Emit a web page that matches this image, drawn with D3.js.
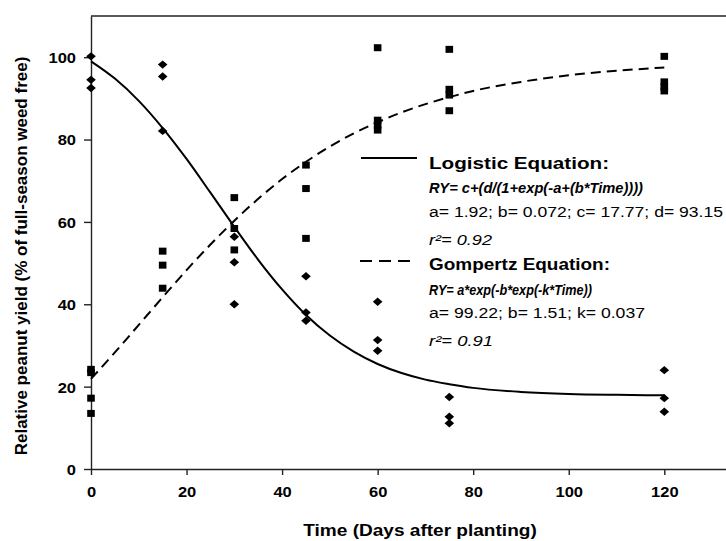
<!DOCTYPE html>
<html>
<head>
<meta charset="utf-8">
<script src="https://cdn.jsdelivr.net/npm/d3@7"></script>
<style>
	body { margin: 0; background: #fff; }
	text { font-family: "Liberation Sans", Arial, sans-serif; fill: #000; }
</style>
</head>
<body>
<div class="demoWrapper"></div>
<script>
const width = 726;
const height = 541;
const margin = {"top": 16, "left": 91, "bottom": 72};
const xMax = 133;
const yMax = 110;

// weed-infested duration (diamonds, logistic fit)
const infestedDays = [0, 0, 0, 15, 15, 15, 30, 30, 30, 45, 45, 45, 60, 60, 60, 75, 75, 75, 120, 120, 120];
const infestedRY = [100.2, 94.5, 92.5, 98.2, 95.3, 82.1, 56.4, 50.2, 40.0, 46.8, 38.0, 36.0, 40.6, 31.3, 28.7, 17.5, 12.7, 11.1, 24.0, 17.2, 13.9];

// weed-free duration (squares, Gompertz fit)
const weedFreeDays = [0, 0, 0, 0, 15, 15, 15, 30, 30, 30, 45, 45, 45, 60, 60, 60, 60, 75, 75, 75, 75, 120, 120, 120, 120];
const weedFreeRY = [24.2, 23.4, 17.2, 13.5, 52.9, 49.5, 43.9, 65.9, 58.4, 53.2, 73.8, 68.1, 56.0, 102.3, 84.7, 83.5, 82.3, 101.9, 92.2, 90.8, 87.0, 100.2, 94.0, 92.8, 91.8];

// fitted curves
const curveDays = [0, 5, 10, 15, 20, 25, 30, 35, 40, 45, 50, 55, 60, 65, 70, 75, 80, 90, 100, 110, 120];
const logisticRY = [99.0, 94.8, 89.4, 82.8, 75.3, 67.1, 58.8, 50.8, 43.6, 37.4, 32.4, 28.5, 25.5, 23.3, 21.7, 20.6, 19.7, 18.7, 18.2, 18.0, 17.9];
const gompertzRY = [21.9, 28.3, 35.0, 41.7, 48.3, 54.5, 60.3, 65.6, 70.4, 74.6, 78.3, 81.5, 84.2, 86.6, 88.6, 90.3, 91.8, 94.0, 95.6, 96.7, 97.5];

const xTicks = [0, 20, 40, 60, 80, 100, 120];
const yTicks = [0, 20, 40, 60, 80, 100];

const legendLines = [
	{"text": "Logistic Equation:", "cls": "head", "len": 180},
	{"text": "RY= c+(d/(1+exp(-a+(b*Time))))", "cls": "eq", "len": 214},
	{"text": "a= 1.92; b= 0.072; c= 17.77; d= 93.15", "cls": "par", "len": 294},
	{"text": "r\u00b2= 0.92", "cls": "r2", "len": 63},
	{"text": "Gompertz Equation:", "cls": "head", "len": 181},
	{"text": "RY= a*exp(-b*exp(-k*Time))", "cls": "eq", "len": 163},
	{"text": "a= 99.22; b= 1.51; k= 0.037", "cls": "par", "len": 216},
	{"text": "r\u00b2= 0.91", "cls": "r2", "len": 64}
];

let x = d3.scaleLinear()
	.domain([0, xMax])
	.range([margin.left, width + 0.4]);
let y = d3.scaleLinear()
	.domain([0, yMax])
	.range([height - margin.bottom, margin.top]);

let svg = d3.select(".demoWrapper")
	.append("svg")
	.attr("width", width)
	.attr("height", height);

function stretch(sel, f) {
	sel.each(function() {
		let t = d3.select(this);
		t.attr("textLength", this.getComputedTextLength() * f).attr("lengthAdjust", "spacingAndGlyphs");
	});
}

// axes
let gX = svg.append("g")
	.attr("transform", "translate(0," + y(0) + ")")
	.call(d3.axisBottom(x).tickValues(xTicks).tickSize(6).tickPadding(6).tickSizeOuter(0));
let gY = svg.append("g")
	.attr("transform", "translate(" + x(0) + ",0)")
	.call(d3.axisLeft(y).tickValues(yTicks).tickSize(7).tickPadding(8).tickSizeOuter(0));
svg.selectAll(".domain, .tick line").attr("stroke", "#222").attr("stroke-width", 1.4);
svg.selectAll(".tick text")
	.style("font-size", "15px")
	.style("font-weight", "bold")
	.attr("fill", "#000");
gX.selectAll(".tick text").attr("dy", "1.05em");
gY.selectAll(".tick text").attr("dy", "0.36em");
stretch(svg.selectAll(".tick text"), 1.1);

svg.append("line")
	.attr("x1", x(0)).attr("x2", x(xMax))
	.attr("y1", y(yMax)).attr("y2", y(yMax))
	.attr("stroke", "#222").attr("stroke-width", 1.4);

// titles
let xTitle = svg.append("text")
	.attr("x", 420)
	.attr("y", 536)
	.attr("text-anchor", "middle")
	.style("font-size", "17px")
	.style("font-weight", "bold")
	.text("Time (Days after planting)");
stretch(xTitle, 1.12);

svg.append("text")
	.attr("transform", "translate(27,256) rotate(-90)")
	.attr("text-anchor", "middle")
	.style("font-size", "17px")
	.style("font-weight", "bold")
	.text("Relative peanut yield (% of full-season weed free)");

// curves
let line = d3.line()
	.x((d, i) => x(curveDays[i]))
	.y((d) => y(d))
	.curve(d3.curveMonotoneX);

svg.append("path")
	.attr("d", line(logisticRY))
	.attr("fill", "none")
	.attr("stroke", "#000")
	.attr("stroke-width", 2);
svg.append("path")
	.attr("d", line(gompertzRY))
	.attr("fill", "none")
	.attr("stroke", "#000")
	.attr("stroke-width", 2)
	.attr("stroke-dasharray", "10,6");

// points
svg.selectAll(".sq")
	.data(weedFreeRY)
	.enter()
	.append("rect")
	.attr("class", "sq")
	.attr("x", (d, i) => x(weedFreeDays[i]) - 3.8)
	.attr("y", (d) => y(d) - 3.5)
	.attr("width", 7.6)
	.attr("height", 7)
	.attr("fill", "#000");

svg.selectAll(".dm")
	.data(infestedRY)
	.enter()
	.append("path")
	.attr("class", "dm")
	.attr("transform", (d, i) => "translate(" + x(infestedDays[i]) + "," + y(d) + ")")
	.attr("d", "M0,-4.2L4.8,0L0,4.2L-4.8,0Z")
	.attr("fill", "#000");

// legend
const lx = 429;
const baselines = [169, 193, 217, 245, 270, 295, 318, 346];
let leg = svg.append("g");
leg.append("line")
	.attr("x1", 361).attr("x2", 417).attr("y1", 158).attr("y2", 158)
	.attr("stroke", "#000").attr("stroke-width", 2);
leg.append("line")
	.attr("x1", 360).attr("x2", 410).attr("y1", 261).attr("y2", 261)
	.attr("stroke", "#000").attr("stroke-width", 2)
	.attr("stroke-dasharray", "12,7");

legendLines.forEach((l, i) => {
	let t = leg.append("text")
		.attr("x", lx)
		.attr("y", baselines[i])
		.attr("textLength", l.len)
		.attr("lengthAdjust", "spacingAndGlyphs")
		.text(l.text);
	if (l.cls == "head") t.style("font-size", "16px").style("font-weight", "bold");
	if (l.cls == "eq") t.style("font-size", "15px").style("font-weight", "bold").style("font-style", "italic");
	if (l.cls == "par") t.style("font-size", "14px");
	if (l.cls == "r2") t.style("font-size", "14px").style("font-style", "italic");
});
</script>
</body>
</html>
